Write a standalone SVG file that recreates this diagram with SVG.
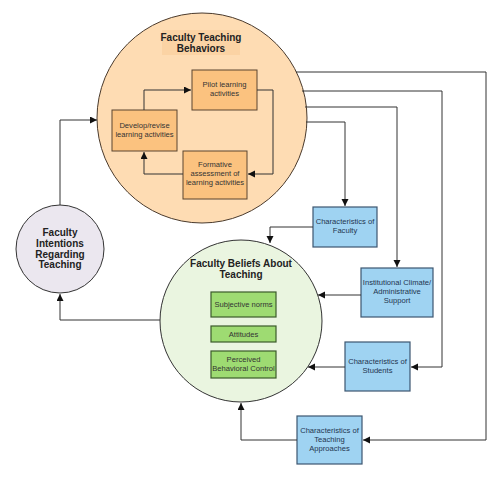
<svg xmlns="http://www.w3.org/2000/svg" width="502" height="480" viewBox="0 0 502 480">
<defs>
<style>
.txt{font-family:"Liberation Sans",Arial,sans-serif;font-size:7.6px;fill:#333;text-anchor:middle}
.ttl{font-family:"Liberation Sans",Arial,sans-serif;font-size:10px;font-weight:bold;fill:#222;text-anchor:middle}
.btxt{font-family:"Liberation Sans",Arial,sans-serif;font-size:7.6px;fill:#1f3550;text-anchor:middle}
.ob{fill:#fbc27f;stroke:#5a4530;stroke-width:1}
.bb{fill:#9fd3f2;stroke:#3c5670;stroke-width:1.2}
.gb{fill:#9edb72;stroke:#3b5a2a;stroke-width:1.2}
.con{fill:none;stroke:#333;stroke-width:1}
</style>
<marker id="ah" markerWidth="8" markerHeight="8" refX="7" refY="3.5" orient="auto" markerUnits="userSpaceOnUse">
<path d="M0,0 L7,3.5 L0,7 z" fill="#111"/>
</marker>
</defs>
<rect width="502" height="480" fill="#fff"/>

<g id="teaching-behaviors">
<circle cx="202" cy="118" r="105" fill="#fedcb3" stroke="#4a3a2c" stroke-width="1"/>
<rect x="162" y="30" width="78" height="25" fill="#fbd3a4"/>
<text class="ttl" x="201" y="41">Faculty Teaching</text>
<text class="ttl" x="201" y="52">Behaviors</text>
</g>
<g id="pilot">
<rect class="ob" x="192" y="70" width="65" height="40"/>
<text class="txt" x="224.5" y="87">Pilot learning</text>
<text class="txt" x="224.5" y="96">activities</text>
</g>
<g id="develop">
<rect class="ob" x="112" y="110" width="65" height="41"/>
<text class="txt" x="144.5" y="128">Develop/revise</text>
<text class="txt" x="144.5" y="137">learning activities</text>
</g>
<g id="formative">
<rect class="ob" x="183" y="151" width="64" height="48"/>
<text class="txt" x="215" y="167">Formative</text>
<text class="txt" x="215" y="176">assessment of</text>
<text class="txt" x="215" y="185">learning activities</text>
</g>

<g id="intentions">
<circle cx="60" cy="249" r="44" fill="#ebe7ef" stroke="#333" stroke-width="1"/>
<text class="ttl" x="60" y="236">Faculty</text>
<text class="ttl" x="60" y="247">Intentions</text>
<text class="ttl" x="60" y="257.5">Regarding</text>
<text class="ttl" x="60" y="268">Teaching</text>
</g>

<g id="beliefs">
<circle cx="241" cy="321" r="81" fill="#eaf5e0" stroke="#333" stroke-width="1"/>
<text class="ttl" x="241" y="267">Faculty Beliefs About</text>
<text class="ttl" x="241" y="278">Teaching</text>
</g>
<g id="subjective">
<rect class="gb" x="211" y="292" width="65" height="25"/>
<text class="txt" x="243.5" y="307">Subjective norms</text>
</g>
<g id="attitudes">
<rect class="gb" x="211" y="326" width="65" height="16"/>
<text class="txt" x="243.5" y="337">Attitudes</text>
</g>
<g id="perceived">
<rect class="gb" x="211" y="351" width="65" height="27"/>
<text class="txt" x="243.5" y="362">Perceived</text>
<text class="txt" x="243.5" y="371">Behavioral Control</text>
</g>

<g id="char-faculty">
<rect class="bb" x="313" y="207" width="64" height="40"/>
<text class="btxt" x="345" y="224">Characteristics of</text>
<text class="btxt" x="345" y="233">Faculty</text>
</g>
<g id="institutional">
<rect class="bb" x="361" y="268" width="72" height="49"/>
<text class="btxt" x="397" y="285">Institutional Climate/</text>
<text class="btxt" x="397" y="294">Administrative</text>
<text class="btxt" x="397" y="303">Support</text>
</g>
<g id="char-students">
<rect class="bb" x="345" y="342" width="65" height="49"/>
<text class="btxt" x="377.5" y="364">Characteristics of</text>
<text class="btxt" x="377.5" y="373">Students</text>
</g>
<g id="char-approaches">
<rect class="bb" x="297" y="416" width="65" height="48"/>
<text class="btxt" x="329.5" y="433">Characteristics of</text>
<text class="btxt" x="329.5" y="442">Teaching</text>
<text class="btxt" x="329.5" y="451">Approaches</text>
</g>

<g id="connectors">
<polyline class="con" points="144,110 144,90 191,90" marker-end="url(#ah)"/>
<polyline class="con" points="257,90 273,90 273,174 248,174" marker-end="url(#ah)"/>
<polyline class="con" points="183,174 144,174 144,152" marker-end="url(#ah)"/>
<polyline class="con" points="60,205 60,120 97,120" marker-end="url(#ah)"/>
<polyline class="con" points="296,72 486,72 486,440 363,440" marker-end="url(#ah)"/>
<polyline class="con" points="302,91 442,91 442,367 411,367" marker-end="url(#ah)"/>
<polyline class="con" points="305,107 397,107 397,267" marker-end="url(#ah)"/>
<polyline class="con" points="306,122 345,122 345,206" marker-end="url(#ah)"/>
<polyline class="con" points="313,227 270,227 270,243" marker-end="url(#ah)"/>
<polyline class="con" points="361,295 318,295" marker-end="url(#ah)"/>
<polyline class="con" points="345,367 308,367" marker-end="url(#ah)"/>
<polyline class="con" points="297,440 241,440 241,403" marker-end="url(#ah)"/>
<polyline class="con" points="160,320 60,320 60,294" marker-end="url(#ah)"/>
</g>
</svg>
